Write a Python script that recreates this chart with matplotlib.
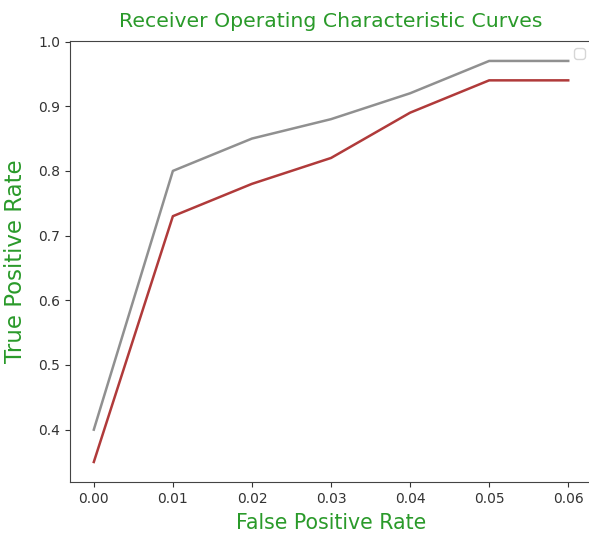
import matplotlib
matplotlib.use('Agg')
import matplotlib.pyplot as plt

fpr = [0.00, 0.01, 0.02, 0.03, 0.04, 0.05, 0.06]
tpr_gray = [0.40, 0.80, 0.85, 0.88, 0.92, 0.97, 0.97]
tpr_red = [0.35, 0.73, 0.78, 0.82, 0.89, 0.94, 0.94]

fig = plt.figure(figsize=(5.89, 5.38), dpi=100)
ax = fig.add_axes([0.119, 0.104, 0.886, 0.820])

ax.plot(fpr, tpr_gray, color='#909090', linewidth=1.8)
ax.plot(fpr, tpr_red, color='#b03a3a', linewidth=1.8)

ax.set_title('Receiver Operating Characteristic Curves', color='#2a9a2a', fontsize=14.7, pad=10)
ax.set_xlabel('False Positive Rate', color='#2a9a2a', fontsize=14.8, labelpad=5)
ax.set_ylabel('True Positive Rate', color='#2a9a2a', fontsize=16.5, labelpad=8)

ax.spines['right'].set_visible(False)
for s in ['top', 'left', 'bottom']:
    ax.spines[s].set_color('#444444')
ax.tick_params(colors='#333333', labelsize=10)

ax.legend(handles=[], loc='upper right')

fig.savefig('out.png', dpi=100)
